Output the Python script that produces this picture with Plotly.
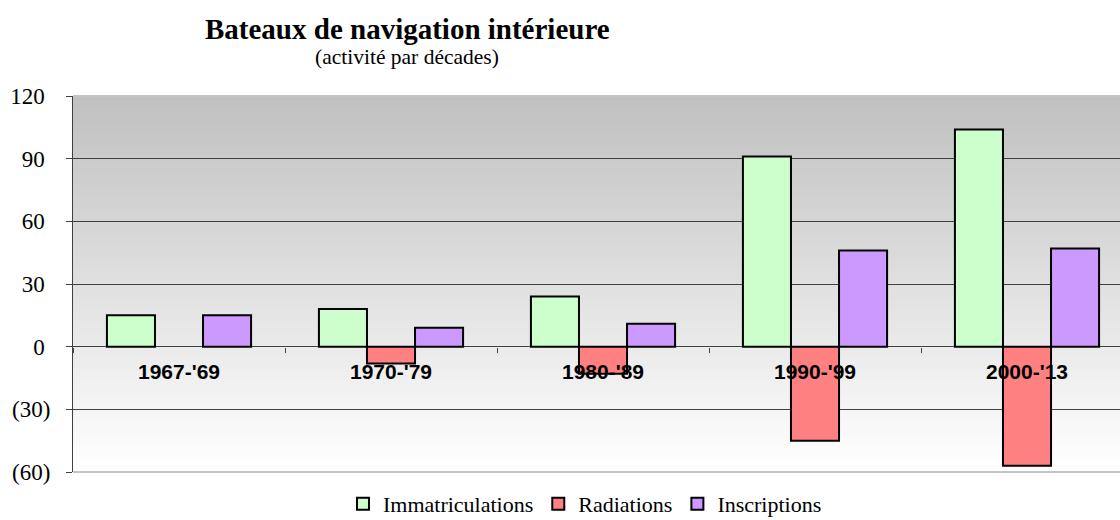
import plotly.graph_objects as go

categories = ["1967-'69", "1970-'79", "1980-'89", "1990-'99", "2000-'13"]
immatriculations = [15, 18, 24, 91, 104]
radiations = [None, -8, -13, -45, -57]
inscriptions = [15, 9, 11, 46, 47]
y_tickvals = [-60, -30, 0, 30, 60, 90, 120]
y_ticktext = ["(60)", "(30)", "0\u00a0", "30\u00a0", "60\u00a0", "90\u00a0", "120\u00a0"]

title_text = "Bateaux de navigation intérieure"
subtitle_text = "(activité par décades)"

serif = "Liberation Serif, Times New Roman, serif"
sans = "Liberation Sans, Arial, sans-serif"

fig = go.Figure()
series = [
    ("Immatriculations", immatriculations, "#ccffcc"),
    ("Radiations", radiations, "#ff8080"),
    ("Inscriptions", inscriptions, "#cc99ff"),
]
for name, vals, col in series:
    fig.add_trace(go.Bar(
        x=categories, y=vals, name=name,
        marker=dict(color=col, line=dict(color="black", width=2)),
    ))

# vertical gradient background (grey at top -> white at bottom)
n = 94
shapes = []
for i in range(n):
    f = i / (n - 1)
    c = int(round(192 + (255 - 192) * f))
    shapes.append(dict(
        type="rect", xref="x domain", yref="y domain",
        x0=0, x1=1, y0=1 - (i + 1) / n, y1=1 - i / n + 0.002,
        fillcolor=f"rgb({c},{c},{c})", line=dict(width=0), layer="below",
    ))
# plot-area top / bottom border
for yv in (0, 1):
    shapes.append(dict(
        type="line", xref="x domain", yref="y domain",
        x0=0, x1=1, y0=yv, y1=yv,
        line=dict(color="#c4c4c4", width=2), layer="above",
    ))

fig.update_layout(
    width=1120, height=520,
    margin=dict(l=73, r=0, t=96, b=48, autoexpand=False),
    paper_bgcolor="white", plot_bgcolor="white",
    barmode="group", bargap=0.32, bargroupgap=0,
    showlegend=True,
    legend=dict(
        orientation="h", x=0.489, xanchor="center",
        yref="container", y=(520 - 504) / 520, yanchor="middle",
        font=dict(family=serif, size=22, color="black"),
        bgcolor="rgba(0,0,0,0)",
    ),
    shapes=shapes,
    annotations=[
        dict(text="<b>" + title_text + "</b>", xref="paper", yref="paper",
             x=(407 - 73) / 1047, y=(472 - 29) / 376, xanchor="center", yanchor="middle",
             showarrow=False, font=dict(family=serif, size=29, color="black")),
        dict(text=subtitle_text, xref="paper", yref="paper",
             x=(407 - 73) / 1047, y=(472 - 57) / 376, xanchor="center", yanchor="middle",
             showarrow=False, font=dict(family=serif, size=21.5, color="black")),
    ],
)

fig.update_xaxes(
    type="category", range=[-0.5, -0.5 + 1047 / 212],
    anchor="free", position=60 / 180,
    showline=False, showgrid=False, zeroline=False,
    ticks="outside", ticklen=5, tickcolor="#404040", tickwidth=1,
    tickson="boundaries",
    tickfont=dict(family=sans, size=21, color="black", weight="bold"),
    ticklabelstandoff=10,
)
fig.update_yaxes(
    range=[-60, 120], tickvals=y_tickvals, ticktext=y_ticktext,
    showline=True, linecolor="#404040", linewidth=1,
    ticks="outside", ticklen=6, tickcolor="#404040",
    showgrid=True, gridcolor="#404040", gridwidth=1,
    zeroline=True, zerolinecolor="#404040", zerolinewidth=1,
    tickfont=dict(family=serif, size=23, color="black"),
    ticklabelstandoff=11,
)

fig.write_html("out.html", config={"displayModeBar": False},
               post_script="document.body.style.margin='0';")
